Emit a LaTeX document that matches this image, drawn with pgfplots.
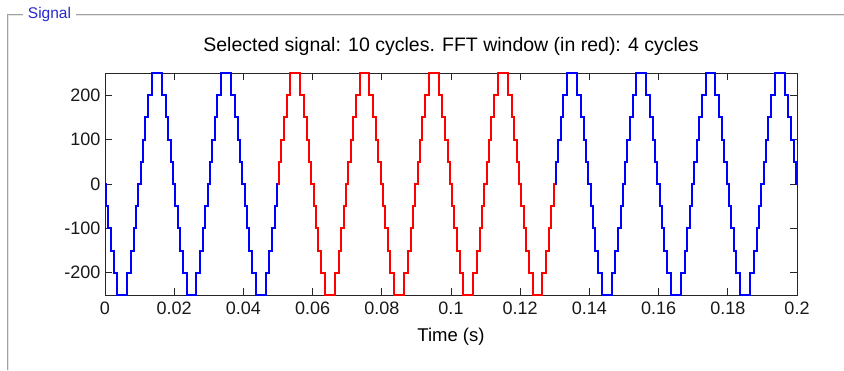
\documentclass[border=0pt]{standalone}
\usepackage{pgfplots}
\pgfplotsset{compat=1.18}
\usepackage{pgfplotstable}
\usepackage{fontspec}
\setmainfont{Liberation Sans}

\pgfplotstableread{
t v
0 0
0.000319 -50
0.000970 -100
0.001667 -150
0.002468 -200
0.003564 -250
0.006436 -200
0.007532 -150
0.008333 -100
0.009030 -50
0.009681 0
0.010319 50
0.010970 100
0.011667 150
0.012468 200
0.013564 250
0.016436 200
0.017532 150
0.018333 100
0.019030 50
0.019681 0
0.020319 -50
0.020970 -100
0.021667 -150
0.022468 -200
0.023564 -250
0.026436 -200
0.027532 -150
0.028333 -100
0.029030 -50
0.029681 0
0.030319 50
0.030970 100
0.031667 150
0.032468 200
0.033564 250
0.036436 200
0.037532 150
0.038333 100
0.039030 50
0.039681 0
0.040319 -50
0.040970 -100
0.041667 -150
0.042468 -200
0.043564 -250
0.046436 -200
0.047532 -150
0.048333 -100
0.049030 -50
0.049681 0
0.050319 50
0.050970 100
0.051667 150
0.052468 200
0.053564 250
0.056436 200
0.057532 150
0.058333 100
0.059030 50
0.059681 0
0.060319 -50
0.060970 -100
0.061667 -150
0.062468 -200
0.063564 -250
0.066436 -200
0.067532 -150
0.068333 -100
0.069030 -50
0.069681 0
0.070319 50
0.070970 100
0.071667 150
0.072468 200
0.073564 250
0.076436 200
0.077532 150
0.078333 100
0.079030 50
0.079681 0
0.080319 -50
0.080970 -100
0.081667 -150
0.082468 -200
0.083564 -250
0.086436 -200
0.087532 -150
0.088333 -100
0.089030 -50
0.089681 0
0.090319 50
0.090970 100
0.091667 150
0.092468 200
0.093564 250
0.096436 200
0.097532 150
0.098333 100
0.099030 50
0.099681 0
0.100319 -50
0.100970 -100
0.101667 -150
0.102468 -200
0.103564 -250
0.106436 -200
0.107532 -150
0.108333 -100
0.109030 -50
0.109681 0
0.110319 50
0.110970 100
0.111667 150
0.112468 200
0.113564 250
0.116436 200
0.117532 150
0.118333 100
0.119030 50
0.119681 0
0.120319 -50
0.120970 -100
0.121667 -150
0.122468 -200
0.123564 -250
0.126436 -200
0.127532 -150
0.128333 -100
0.129030 -50
0.129681 0
0.130319 50
0.130970 100
0.131667 150
0.132468 200
0.133564 250
0.136436 200
0.137532 150
0.138333 100
0.139030 50
0.139681 0
0.140319 -50
0.140970 -100
0.141667 -150
0.142468 -200
0.143564 -250
0.146436 -200
0.147532 -150
0.148333 -100
0.149030 -50
0.149681 0
0.150319 50
0.150970 100
0.151667 150
0.152468 200
0.153564 250
0.156436 200
0.157532 150
0.158333 100
0.159030 50
0.159681 0
0.160319 -50
0.160970 -100
0.161667 -150
0.162468 -200
0.163564 -250
0.166436 -200
0.167532 -150
0.168333 -100
0.169030 -50
0.169681 0
0.170319 50
0.170970 100
0.171667 150
0.172468 200
0.173564 250
0.176436 200
0.177532 150
0.178333 100
0.179030 50
0.179681 0
0.180319 -50
0.180970 -100
0.181667 -150
0.182468 -200
0.183564 -250
0.186436 -200
0.187532 -150
0.188333 -100
0.189030 -50
0.189681 0
0.190319 50
0.190970 100
0.191667 150
0.192468 200
0.193564 250
0.196436 200
0.197532 150
0.198333 100
0.199030 50
0.199681 0
0.2 0
}\sigall

\pgfplotstableread{
t v
0.05 0
0.050319 50
0.050970 100
0.051667 150
0.052468 200
0.053564 250
0.056436 200
0.057532 150
0.058333 100
0.059030 50
0.059681 0
0.060319 -50
0.060970 -100
0.061667 -150
0.062468 -200
0.063564 -250
0.066436 -200
0.067532 -150
0.068333 -100
0.069030 -50
0.069681 0
0.070319 50
0.070970 100
0.071667 150
0.072468 200
0.073564 250
0.076436 200
0.077532 150
0.078333 100
0.079030 50
0.079681 0
0.080319 -50
0.080970 -100
0.081667 -150
0.082468 -200
0.083564 -250
0.086436 -200
0.087532 -150
0.088333 -100
0.089030 -50
0.089681 0
0.090319 50
0.090970 100
0.091667 150
0.092468 200
0.093564 250
0.096436 200
0.097532 150
0.098333 100
0.099030 50
0.099681 0
0.100319 -50
0.100970 -100
0.101667 -150
0.102468 -200
0.103564 -250
0.106436 -200
0.107532 -150
0.108333 -100
0.109030 -50
0.109681 0
0.110319 50
0.110970 100
0.111667 150
0.112468 200
0.113564 250
0.116436 200
0.117532 150
0.118333 100
0.119030 50
0.119681 0
0.120319 -50
0.120970 -100
0.121667 -150
0.122468 -200
0.123564 -250
0.126436 -200
0.127532 -150
0.128333 -100
0.129030 -50
0.129681 0
0.13 0
}\sigfft

\definecolor{framegray}{RGB}{160,160,160}
\definecolor{framelight}{RGB}{230,230,230}
\definecolor{labelblue}{RGB}{40,40,210}

\begin{document}
\begin{tikzpicture}[x=1pt,y=1pt]
\useasboundingbox (0,0) rectangle (844,370);
\fill[white] (0,0) rectangle (844,370);
% group box frame
\draw[framegray, line width=1.2pt] (23,355.5) -- (7.5,355.5) -- (7.5,0);
\draw[framegray, line width=1.2pt] (76,355.5) -- (844,355.5);
\draw[framelight, line width=0.8pt] (23,354.3) -- (8.7,354.3) -- (8.7,0);
\draw[framelight, line width=0.8pt] (76,354.3) -- (844,354.3);
\node[text=labelblue, font=\fontsize{15.5}{17}\selectfont, inner sep=0pt] at (49.5,356) {Signal};
\begin{axis}[
  at={(105pt,75pt)}, anchor=south west,
  scale only axis, width=692pt, height=222pt,
  xmin=0, xmax=0.2, ymin=-250, ymax=250,
  xtick={0,0.02,0.04,0.06,0.08,0.1,0.12,0.14,0.16,0.18,0.2},
  xticklabels={0,0.02,0.04,0.06,0.08,0.1,0.12,0.14,0.16,0.18,0.2},
  ytick={-200,-100,0,100,200},
  yticklabels={-200,-100,0,100,200},
  tick pos=both, tick align=inside,
  major tick length=7pt,
  every tick/.style={black!85, line width=0.8pt},
  axis line style={black!85, line width=0.9pt},
  tick label style={font=\fontsize{18}{20}\selectfont, text=black!90},
  xticklabel style={yshift=-3pt},
  yticklabel style={xshift=-1pt},
  title={Selected signal: 10 cycles. FFT window (in red): 4 cycles},
  title style={font=\fontsize{19.5}{22}\selectfont, at={(axis description cs:0.5,1)}, anchor=base, yshift=16pt, inner sep=0pt},
  xlabel={Time (s)},
  xlabel style={font=\fontsize{18.5}{21}\selectfont, at={(axis description cs:0.5,0)}, anchor=center, yshift=-42pt},
  clip=false,
]
\addplot[const plot, blue, line width=2pt, line join=miter] table[x=t, y=v] {\sigall};
\addplot[const plot, red, line width=2pt, line join=miter] table[x=t, y=v] {\sigfft};
\end{axis}
\end{tikzpicture}
\end{document}
